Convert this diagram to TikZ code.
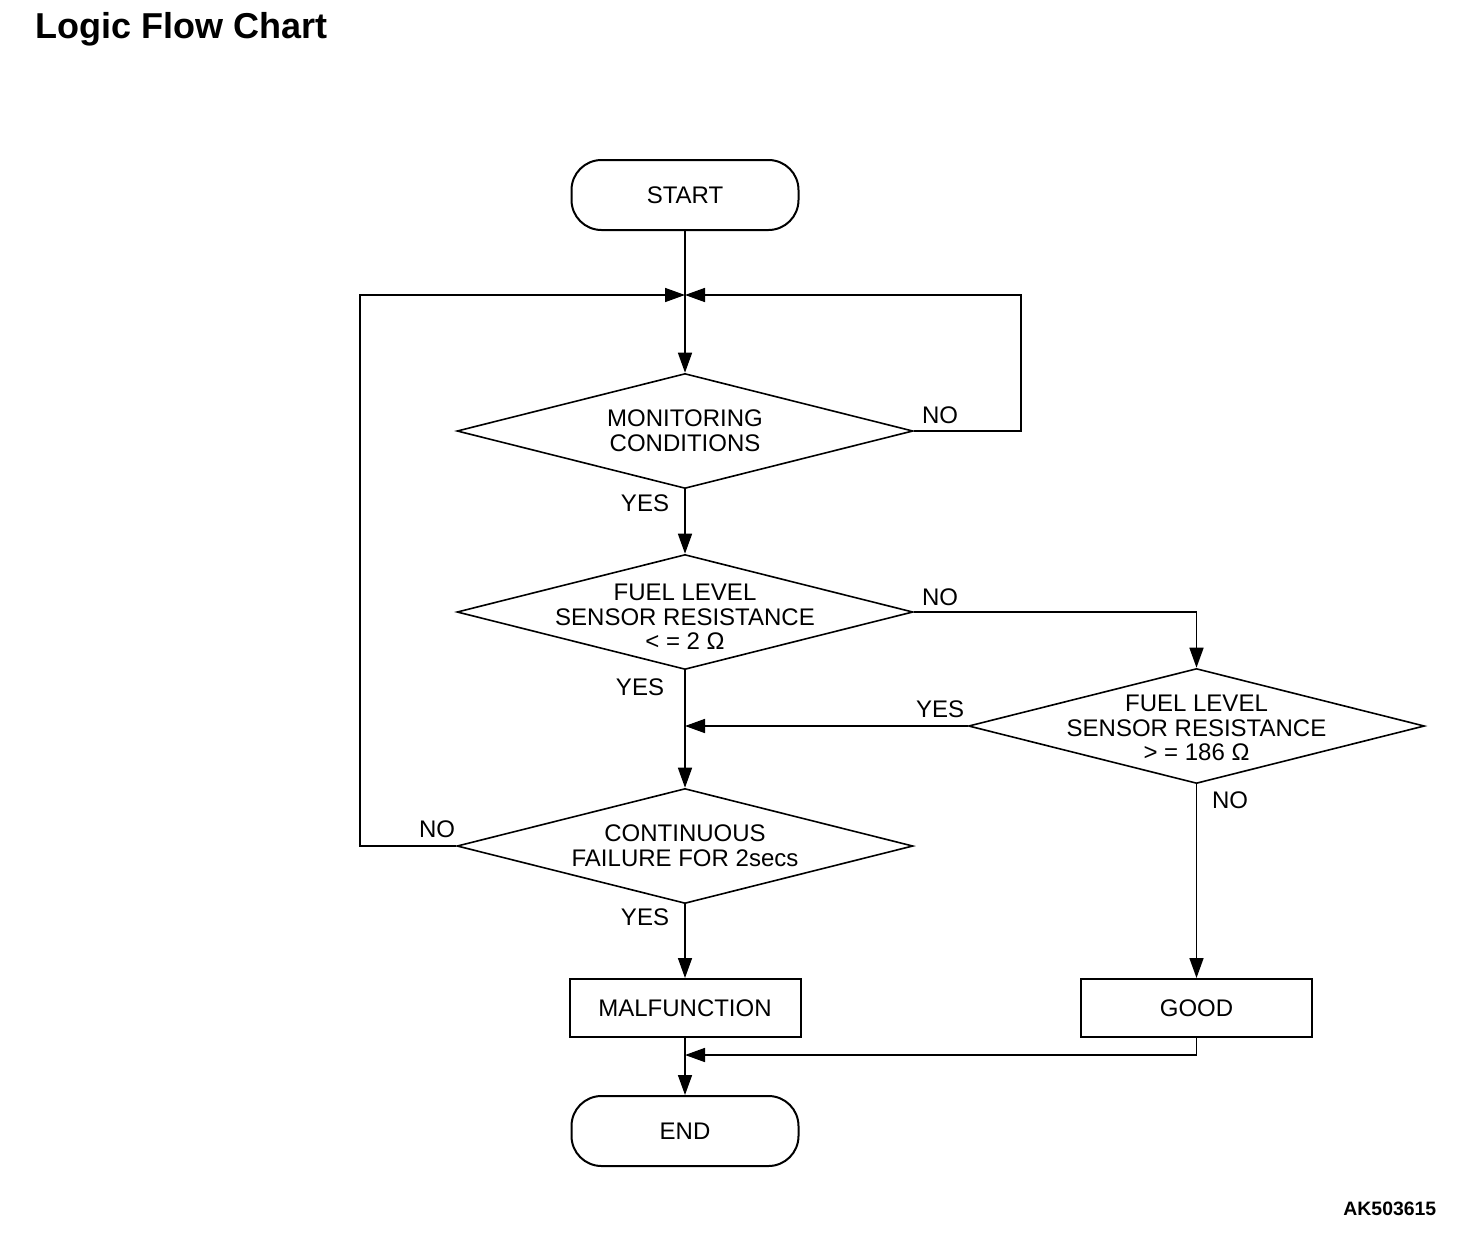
\documentclass[tikz,border=0pt]{standalone}
\usepackage{fontspec}
\setmainfont{Liberation Sans}
\usepackage{tikz}
\usetikzlibrary{shapes.geometric,arrows.meta}

\begin{document}
\begin{tikzpicture}[x=0.5pt,y=-0.5pt,line width=0.8pt,>={Triangle[length=10pt,width=7pt]}]
            \tikzstyle{terminal}=[rectangle,rounded corners=15pt,draw=black,line width=1pt,minimum width=113.5pt,minimum height=35pt,inner sep=0pt,font=\fontsize{12}{12.3}\selectfont]
            \tikzstyle{decision}=[diamond,draw=black,minimum width=228pt,minimum height=57.5pt,inner sep=0pt]
            \tikzstyle{cond}=[align=center,inner sep=0pt,font=\fontsize{12}{12.3}\selectfont]
            \tikzstyle{process}=[rectangle,draw=black,line width=1pt,minimum width=115.5pt,minimum height=29pt,inner sep=0pt,font=\fontsize{12}{12.3}\selectfont]
            \tikzstyle{answer}=[inner sep=0pt,font=\fontsize{12}{12.3}\selectfont]
                \useasboundingbox (0,0) rectangle (1472,1242);

                \node[anchor=west,inner sep=0pt,font=\fontsize{18}{18}\selectfont\bfseries] (title) at (35,29) {Logic Flow Chart};
                \node[anchor=east,inner sep=0pt,font=\fontsize{9.7}{9.7}\selectfont\bfseries] (code) at (1437,1209) {AK503615};

                \node[terminal] (S) at (685,195){START};
                \node[decision,label={[cond]center:MONITORING\\CONDITIONS}] (D-1) at (685,431){};
                \node[decision,label={[cond,yshift=-2.5pt]center:FUEL LEVEL\\SENSOR RESISTANCE\\< = 2 Ω}] (D-2) at (685,612){};
                \node[decision,label={[cond,yshift=-1pt]center:FUEL LEVEL\\SENSOR RESISTANCE\\> = 186 Ω}] (D-3) at (1196.5,726){};
                \node[decision,label={[cond]center:CONTINUOUS\\FAILURE FOR 2secs}] (D-4) at (685,846){};
                \node[process] (M) at (685,1008){MALFUNCTION};
                \node[process] (G) at (1196.5,1008){GOOD};
                \node[terminal] (E) at (685,1131){END};

                \coordinate (J-1) at (685,295);
                \coordinate (J-2) at (685,726);
                \coordinate (J-3) at (685,1055);

                \foreach \from/\to in {S/D-1, D-1/D-2, D-2/D-4, D-4/M, M/E, D-3/G}
                    \draw[->] (\from) -- (\to);

                \draw[->] (D-1.east) -- ++(107,0) |- (J-1);
                \draw[->] (D-4.west) -- ++(-96,0) |- (J-1);
                \draw[->] (D-2.east) -| (D-3.north);
                \draw[->] (D-3.west) -- (J-2);
                \draw[->] (G.south) |- (J-3);

                \foreach \name/\x/\y/\txt in {1/940/415/NO, 2/645/503/YES, 3/940/597/NO, 4/640/687/YES,
                                             5/940/709/YES, 6/1230/800/NO, 7/437/829/NO, 8/645/917/YES}
                    \node[answer] (A-\name) at (\x,\y){\txt};
        \end{tikzpicture}
\end{document}
